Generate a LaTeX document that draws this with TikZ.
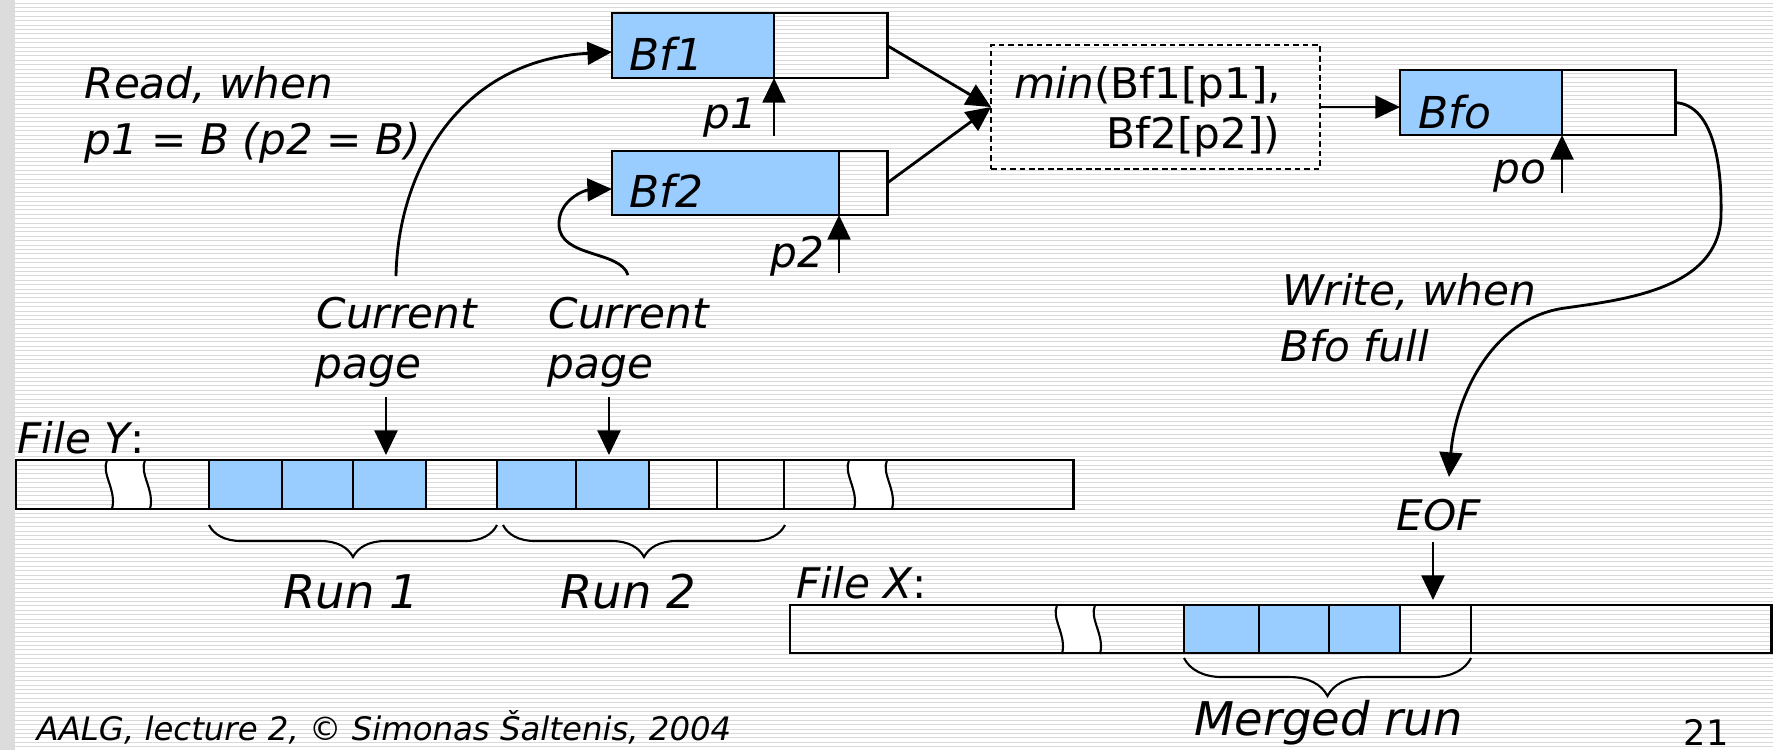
\documentclass[tikz,border=0pt]{standalone}
\usepackage{fontspec}
\setmainfont{DejaVu Sans}
\usetikzlibrary{arrows.meta,decorations.pathreplacing}
\definecolor{bfill}{HTML}{99CCFF}
\definecolor{band}{HTML}{DCDCDC}
\definecolor{stripe}{HTML}{D9D9D9}
\begin{document}
\begin{tikzpicture}[x=0.01cm,y=-0.01cm,
  t/.style={inner sep=0, font=\fontsize{12}{16}\selectfont\itshape},
  tb/.style={inner sep=0, font=\fontsize{12.5}{16}\selectfont\itshape},
  tr/.style={inner sep=0, font=\fontsize{13.2}{16}\selectfont\itshape},
  u/.style={inner sep=0, font=\fontsize{12}{16}\selectfont},
  cellb/.style={draw, line width=0.4pt, fill=bfill, anchor=north west, inner sep=0, outer sep=0},
  cellw/.style={draw, line width=0.4pt, anchor=north west, inner sep=0, outer sep=0},
  outline/.style={draw, line width=0.8pt, anchor=north west, inner sep=0, outer sep=0},
  dbox/.style={draw, line width=0.45pt, dash pattern=on 1.6pt off 1.1pt, anchor=north west, inner sep=0, outer sep=0},
  arr/.style={line width=0.8pt, -{Triangle[length=7pt,width=6.5pt]}},
  brc/.style={decorate, line width=0.6pt},
  brk/.pic={
    \fill[white] (0,0) .. controls (-6,14) and (10,30) .. (5,49) -- (43,49) .. controls (48,30) and (32,14) .. (38,0) -- cycle;
    \draw[line width=0.6pt] (0,0) .. controls (-6,14) and (10,30) .. (5,49);
    \draw[line width=0.6pt] (38,0) .. controls (32,14) and (48,30) .. (43,49);
  }]
\useasboundingbox (0,0) rectangle (1773,750);
\fill[white] (0,0) rectangle (1773,750);
\fill[band] (0,0) rectangle (15,750);
\foreach \i in {0,...,170} \draw[stripe, line width=0.01cm] (15,{3+\i*4.4}) -- (1773,{3+\i*4.4});

% ---------- buffers ----------
\node[cellb, minimum width=1.62cm, minimum height=0.65cm] (bf1a) at (612,13) {};
\node[outline, minimum width=2.75cm, minimum height=0.65cm] (bf1) at (612,13) {};
\node[cellb, minimum width=2.27cm, minimum height=0.64cm] (bf2a) at (612,151) {};
\node[outline, minimum width=2.75cm, minimum height=0.64cm] (bf2) at (612,151) {};
\node[cellb, minimum width=1.62cm, minimum height=0.65cm] (bfoa) at (1400,70) {};
\node[outline, minimum width=2.75cm, minimum height=0.65cm] (bfo) at (1400,70) {};
\node[dbox, minimum width=3.29cm, minimum height=1.24cm] (minb) at (991,45) {};

\node[tb, anchor=base west] (bf1lab) at (629,70) {Bf1};
\node[tb, anchor=base west] (bf2lab) at (629,207) {Bf2};
\node[tb, anchor=base west] (bfolab) at (1418,128) {Bfo};
\node[u, anchor=base west] (min1) at (1014,98) {\textit{min}(Bf1[p1],};
\node[u, anchor=base east] (min2) at (1281,148) {Bf2[p2])};

\node[t, anchor=base east] (p1lab) at (758,128) {p1};
\node[t, anchor=base east] (p2lab) at (825,267) {p2};
\node[t, anchor=base east] (polab) at (1547,183) {po};
\coordinate (p1s) at (774,136);
\coordinate (p2s) at (839,273);
\coordinate (pos) at (1562,193);
\draw[arr] (p1s) -- (p1s |- bf1.south);
\draw[arr] (p2s) -- (p2s |- bf2.south);
\draw[arr] (pos) -- (pos |- bfo.south);

\draw[arr] (bf1.east) -- (minb.west);
\draw[arr] (bf2.east) -- (minb.west);
\draw[arr] (minb.east) -- (minb.east -| bfo.west);

% ---------- texts ----------
\node[t, anchor=base west] (read1) at (84,98) {Read, when};
\node[t, anchor=base west] (read2) at (84,154) {p1 = B (p2 = B)};
\node[t, anchor=base west] (cur1a) at (316,328) {Current};
\node[t, anchor=base west] (cur1b) at (315,378) {page};
\node[t, anchor=base west] (cur2a) at (548,328) {Current};
\node[t, anchor=base west] (cur2b) at (547,378) {page};
\node[t, anchor=base west] (wr1) at (1282,305) {Write, when};
\node[t, anchor=base west] (wr2) at (1280,361) {Bfo full};
\node[t, anchor=base west] (eof) at (1396,530) {EOF};
\node[t, anchor=base west] (fy) at (17,453) {File Y\upshape:};
\node[t, anchor=base west] (fx) at (796,598) {File X\upshape:};
\node[tr, anchor=base west] (run1) at (283,608) {Run 1};
\node[tr, anchor=base west] (run2) at (560,608) {Run 2};
\node[tr, anchor=base west] (mrun) at (1194,735) {Merged run};
\node[inner sep=0, anchor=base west, font=\fontsize{10}{12}\selectfont] (pgno) at (1683,745) {21};
\node[inner sep=0, anchor=base west, font=\fontsize{9.2}{11}\selectfont\itshape] (foot) at (36,740) {AALG, lecture 2, © Simonas Šaltenis, 2004};

% ---------- File Y ----------
\node[cellb, minimum width=0.73cm, minimum height=0.49cm] (y1) at (209,460) {};
\node[cellb, minimum width=0.71cm, minimum height=0.49cm] (y2) at (282,460) {};
\node[cellb, minimum width=0.73cm, minimum height=0.49cm] (y3) at (353,460) {};
\node[cellw, minimum width=0.71cm, minimum height=0.49cm] (y4) at (426,460) {};
\node[cellb, minimum width=0.79cm, minimum height=0.49cm] (y5) at (497,460) {};
\node[cellb, minimum width=0.73cm, minimum height=0.49cm] (y6) at (576,460) {};
\node[cellw, minimum width=0.68cm, minimum height=0.49cm] (y7) at (649,460) {};
\node[cellw, minimum width=0.67cm, minimum height=0.49cm] (y8) at (717,460) {};
\pic at (107,460) {brk};
\pic at (849,460) {brk};
\node[outline, minimum width=10.57cm, minimum height=0.49cm] (fileY) at (16,460) {};
\draw[line width=0.8pt] (y1.north west) -- (y1.south west);
\draw[line width=0.8pt] (y5.north west) -- (y5.south west);
\draw[line width=0.8pt] (y8.north east) -- (y8.south east);

\coordinate (c1s) at (386,397);
\coordinate (c2s) at (609,397);
\draw[arr, shorten >=0.05cm] (c1s) -- (c1s |- y3.north);
\draw[arr, shorten >=0.05cm] (c2s) -- (c2s |- y6.north);

\coordinate (b1a) at (209,525);
\coordinate (b1b) at (497,525);
\draw[brc, decoration={brace, mirror, amplitude=0.32cm}] (b1a) -- (b1b);
\coordinate (b2a) at (503,525);
\coordinate (b2b) at (785,525);
\draw[brc, decoration={brace, mirror, amplitude=0.32cm}] (b2a) -- (b2b);

% ---------- File X ----------
\node[cellb, minimum width=0.75cm, minimum height=0.48cm] (x1) at (1184,605) {};
\node[cellb, minimum width=0.70cm, minimum height=0.48cm] (x2) at (1259,605) {};
\node[cellb, minimum width=0.71cm, minimum height=0.48cm] (x3) at (1329,605) {};
\node[cellw, minimum width=0.71cm, minimum height=0.48cm] (x4) at (1400,605) {};
\pic at (1057,605) {brk};
\node[outline, minimum width=9.81cm, minimum height=0.48cm] (fileX) at (790,605) {};
\coordinate (eofs) at (1433,542);
\draw[arr, shorten >=0.05cm] (eofs) -- (eofs |- x4.north);
\coordinate (b3a) at (1184,658);
\coordinate (b3b) at (1471,658);
\draw[brc, decoration={brace, mirror, amplitude=0.38cm}] (b3a) -- (b3b);

% ---------- curved arrows ----------
\coordinate (rd1) at (396,276);
\coordinate (rd2) at (628,275);
\coordinate (eofin) at (1449,477);
\draw[arr] (rd1) .. controls (398,170) and (460,60) .. ([yshift=-0.065cm]bf1.west);
\draw[arr] (rd2) .. controls (620,250) and (560,258) .. (559,225) .. controls (558,200) and (585,190) .. ([yshift=-0.06cm]bf2.west);
\draw[arr] (bfo.east) .. controls (1715,105) and (1722,170) .. (1721,215) .. controls (1720,290) and (1620,300) .. (1565,308) .. controls (1490,318) and (1455,400) .. (eofin);
\end{tikzpicture}
\end{document}
